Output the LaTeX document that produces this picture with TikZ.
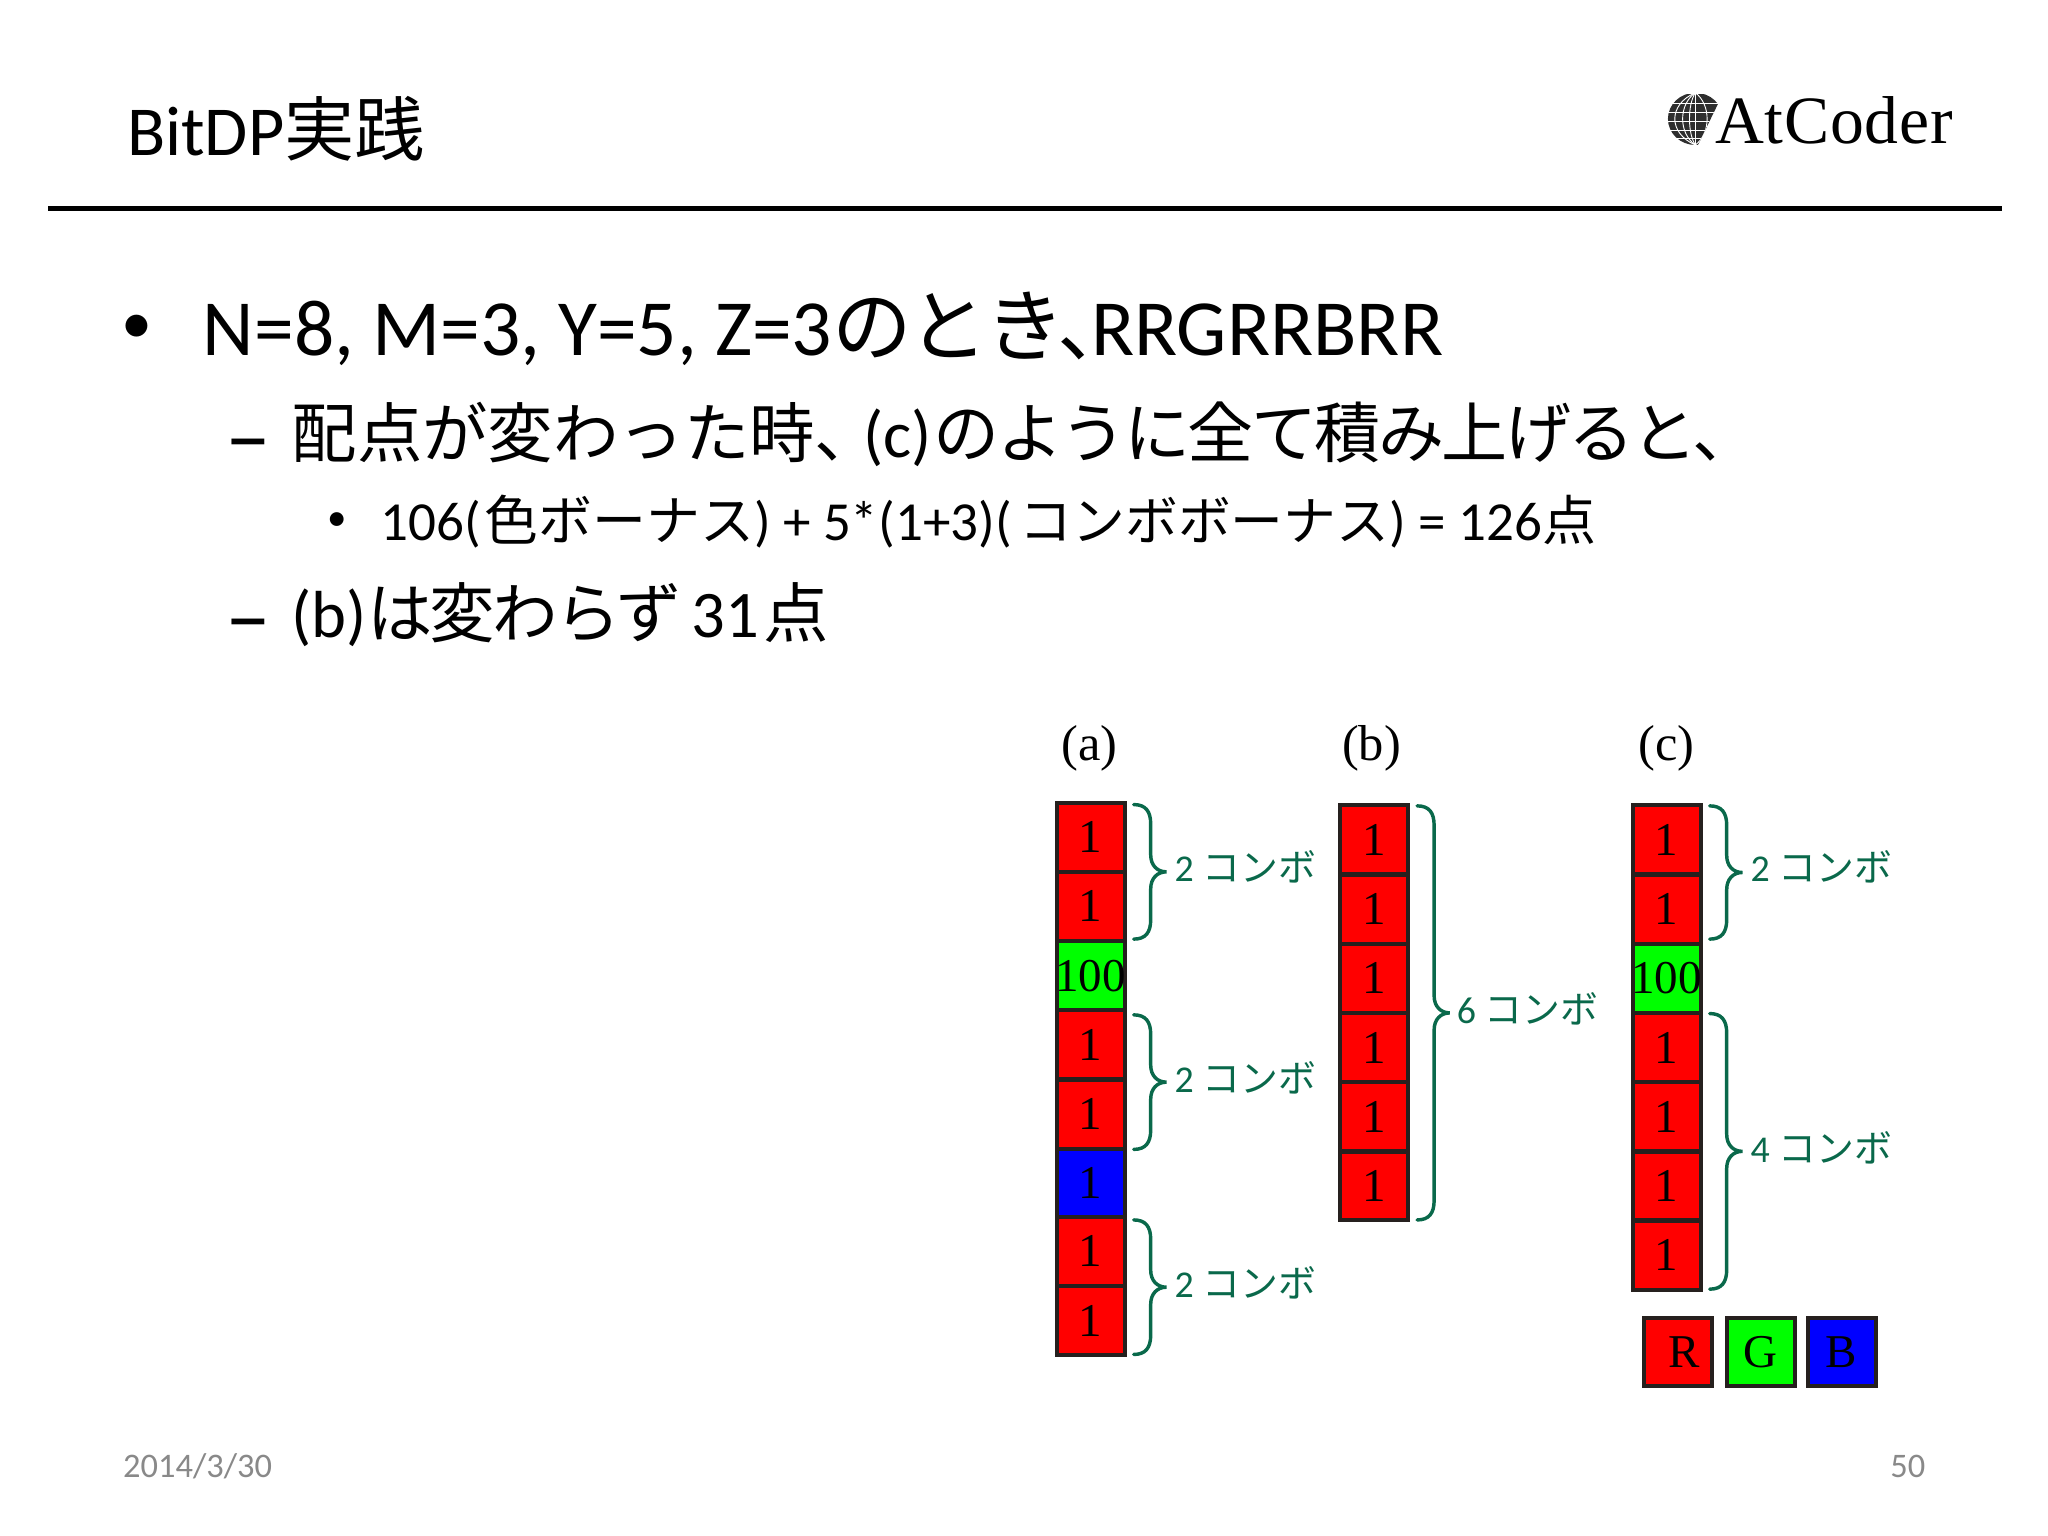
\documentclass[tikz,border=0pt]{standalone}
\usepackage{fontspec}
\setmainfont{Carlito}
\newfontfamily\cjk{Noto Sans CJK JP}
\newfontfamily\cjkt[LetterSpace=-4]{Noto Sans CJK JP}
\newfontfamily\tms{Liberation Serif}
\newfontfamily\tmslogo[LetterSpace=1]{Liberation Serif}
\newcommand{\J}[1]{{\cjk #1}}
\newcommand{\T}[1]{{\cjkt #1}}
\definecolor{cgreen}{RGB}{10,105,75}
\definecolor{cedge}{RGB}{38,32,30}
\definecolor{cfoot}{RGB}{137,137,137}
\newcommand{\fs}[1]{\fontsize{#1}{#1}\selectfont}
\newcommand{\combrace}[3]{%
  \pgfmathsetmacro{\mmid}{(#2+#3)/2}%
  \draw[bracepath] (#1,#2) .. controls (#1+9,#2) and (#1+13,#2+5) .. (#1+13,#2+15)
    -- (#1+13,\mmid-13) .. controls (#1+13,\mmid-5) and (#1+18,\mmid) .. (#1+25,\mmid)
    .. controls (#1+18,\mmid) and (#1+13,\mmid+5) .. (#1+13,\mmid+13)
    -- (#1+13,#3-15) .. controls (#1+13,#3-5) and (#1+9,#3) .. (#1,#3);}
\tikzset{
  x=0.02cm,y=-0.02cm,
  txt/.style={anchor=base west,inner sep=0pt,text=black},
  bracepath/.style={draw=cgreen,line width=1.5pt,line cap=round},
  cell/.style={draw=cedge,line width=1.7pt,minimum width=1.04cm,minimum height=1.054cm,inner sep=0pt,
    font=\tms\fs{20.5},text=black},
  rcell/.style={cell,fill=red},
  gcell/.style={cell,fill=green},
  bcell/.style={cell,fill=blue},
  combo/.style={anchor=west,inner sep=0pt,text=cgreen,font=\fs{16.5}},
  head/.style={anchor=center,inner sep=0pt,font=\tms\fs{22}},
  foot/.style={anchor=base west,inner sep=0pt,text=cfoot,font=\fs{15}},
}
\begin{document}
\begin{tikzpicture}
\useasboundingbox (0,0) rectangle (1568,1176);
\fill[white] (0,0) rectangle (1568,1176);
% title + rule
\node[txt,font=\fs{30.6}] (title) at (97,119) {BitDP\J{実践}};
\draw[line width=2.3pt] (37,159.5) -- (1533,159.5);
% logo
\begin{scope}
  \clip (1277,72) -- (1319,72) -- (1300,111) -- (1277,111) -- cycle;
  \fill[black!82] (1298,91) ellipse (21 and 20);
  \foreach \yy in {79,86,93,100,106}{\draw[white,line width=0.4pt] (1277,\yy) -- (1319,\yy);}
  \foreach \aa in {6,13,21}{
    \draw[white,line width=0.4pt] (1298,71) .. controls (1298-\aa,80) and (1298-\aa,102) .. (1298,111);}
  \draw[white,line width=0.4pt] (1298,71) -- (1298,111);
  \draw[white,line width=0.4pt] (1298,71) .. controls (1310,80) and (1310,102) .. (1298,111);
\end{scope}
\node[txt,font=\tmslogo\fs{29.5}] (logo) at (1313,110) {AtCoder};
% body text
\node[inner sep=0pt,font=\fs{27}] (b1) at (105,252) {•};
\node[txt,font=\fs{34.7}] (t1) at (155,272) {N=8, M=3, Y=5, Z=3\T{のとき}\kern-3pt\makebox[14.5pt][l]{\J{、}}RRGRRBRR};
\node[txt,font=\fs{40}] (d1) at (172,358) {–};
\node[txt,font=\fs{29}] (t2) at (223,350) {{\fs{28.5}\J{配点が変わった時}\makebox[21pt][l]{\J{、}}}(c)\kern1pt{\fs{28.8}\T{のように全て積み上げると、}}};
\node[inner sep=0pt,font=\fs{17}] (b2) at (258,399) {•};
\node[txt,font=\fs{24}] (t3) at (291,414) {106(\kern1.5pt{\fs{23.5}\J{色ボーナス}}) + 5*(1+3)(\kern3.5pt{\fs{23}\J{コンボボーナス}}) = 126{\fs{23.5}\J{点}}};
\node[txt,font=\fs{40}] (d2) at (172,496) {–};
\node[txt,font=\fs{29}] (t4) at (223,488) {(b){\fs{28.5}\T{は変わらず}}\kern4pt 31\kern2pt{\fs{28.5}\J{点}}};
% headings
\node[head] (ha) at (834,573) {(a)};
\node[head] (hb) at (1050,573) {(b)};
\node[head] (hc) at (1276,573) {(c)};
% column a
\node[rcell] (a1) at (835,641) {1};
\node[rcell] (a2) at (835,694) {1};
\node[gcell] (a3) at (835,747) {\makebox[0pt][c]{100}};
\node[rcell] (a4) at (835,800) {1};
\node[rcell] (a5) at (835,853) {1};
\node[bcell] (a6) at (835,906) {1};
\node[rcell] (a7) at (835,958) {1};
\node[rcell] (a8) at (835,1011) {1};
% column b
\foreach \i/\yy in {1/643,2/696,3/749,4/802,5/855,6/908}{
  \node[rcell] (b-\i) at (1052,\yy) {1};}
% column c
\node[gcell] (c-3) at (1276,749) {\makebox[0pt][c]{100}};
\foreach \i/\yy in {1/643,2/696,4/802,5/855,6/908,7/961}{
  \node[rcell] (c-\i) at (1276,\yy) {1};}
% legend
\node[rcell,minimum height=1.04cm] (lr) at (1285,1035) {\kern5pt R};
\node[gcell,minimum height=1.04cm] (lg) at (1348,1035) {G};
\node[bcell,minimum height=1.04cm] (lb) at (1410,1035) {B};
% braces
\combrace{868}{616}{719}
\combrace{868}{777}{880}
\combrace{868}{934}{1037}
\combrace{1085}{617}{934}
\combrace{1309}{617}{719}
\combrace{1309}{776}{987}
% combo labels
\node[combo] (ca1) at (899,664) {2 \J{コンボ}};
\node[combo] (ca2) at (899,825) {2 \J{コンボ}};
\node[combo] (ca3) at (899,982) {2 \J{コンボ}};
\node[combo] (cb1) at (1115,772) {6 \J{コンボ}};
\node[combo] (cc1) at (1340,664) {2 \J{コンボ}};
\node[combo] (cc2) at (1340,879) {4 \J{コンボ}};
% footer
\node[foot] (date) at (94,1131) {2014/3/30};
\node[foot] (page) at (1447,1131) {50};
\end{tikzpicture}
\end{document}
